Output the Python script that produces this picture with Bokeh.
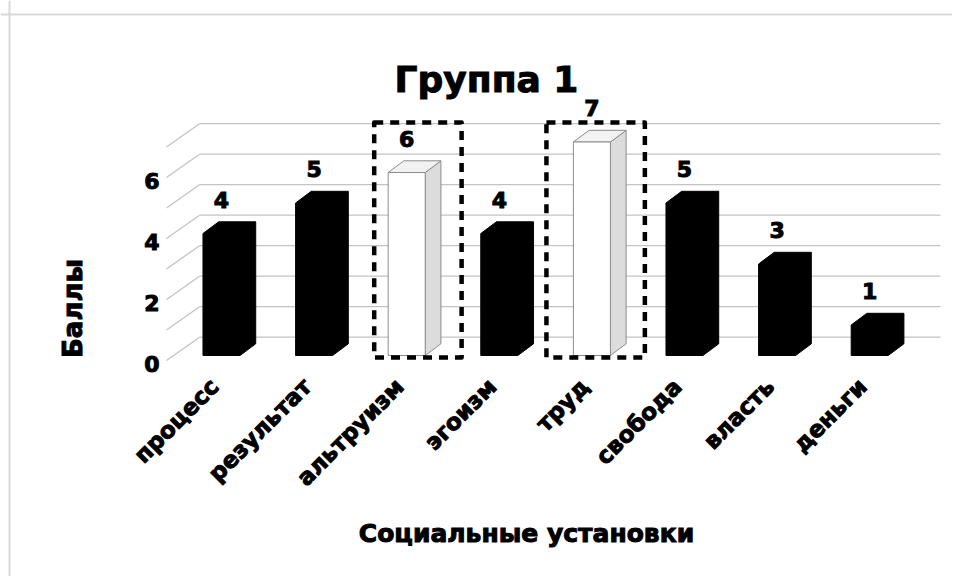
import math
from bokeh.plotting import figure
from bokeh.models import Range1d, Span
from bokeh.core.properties import value
from bokeh.embed import file_html
from bokeh.resources import INLINE

# ---------------- data ----------------
categories = ["процесс", "результат", "альтруизм", "эгоизм", "труд", "свобода", "власть", "деньги"]
scores = [4, 5, 6, 4, 7, 5, 3, 1]
highlighted = ["альтруизм", "труд"]
y_tick_values = [0, 2, 4, 6]
grid_levels = [0, 1, 2, 3, 4, 5, 6, 7]
title_text = "Группа 1"
x_title = "Социальные установки"
y_title = "Баллы"

# ---------------- layout (pixels) ----------------
W, H = 952, 576
PX_CAT = 92.6      # pixels per category step
PX_VAL = 30.5      # pixels per score unit
ORIGIN_X = 221     # canvas x of first category (front face centre)
ORIGIN_Y = 355     # canvas y of score 0 (front face bottom)

def px_to_x(px):
    return (px - ORIGIN_X) / PX_CAT

def py_to_y(py):
    return (ORIGIN_Y - py) / PX_VAL

# pseudo-3D projection constants (data units)
HALF_W = 0.2
DX = 15.7 / PX_CAT
DY = 11.7 / PX_VAL
WALL_LEFT = px_to_x(199)
WALL_RIGHT = px_to_x(940)
WALL_DY = 18.3 / PX_VAL
SIDE_FRONT_X = px_to_x(166)
SIDE_FRONT_DY = -5.0 / PX_VAL

FONT = value("DejaVu Sans")
GRID_COLOR = "#c3c3c3"
TEXT_STYLE = dict(text_font=FONT, text_font_style="bold", text_color="black",
                  text_outline_color="black")

p = figure(width=W, height=H,
           x_range=Range1d(px_to_x(0), px_to_x(W)),
           y_range=Range1d(py_to_y(H), py_to_y(0)),
           x_axis_type=None, y_axis_type=None,
           output_backend="svg", toolbar_location=None,
           min_border=0)
p.grid.visible = False
p.outline_line_color = None
p.background_fill_color = "white"
p.border_fill_color = "white"

# chart border (top + left visible)
p.add_layout(Span(location=py_to_y(14), dimension="width", line_color="#d9d9d9", line_width=2))
p.add_layout(Span(location=px_to_x(9), dimension="height", line_color="#d9d9d9", line_width=2))

# back wall gridlines and side wall diagonals
n = len(grid_levels)
p.segment(x0=[WALL_LEFT] * n, y0=[g + WALL_DY for g in grid_levels],
          x1=[WALL_RIGHT] * n, y1=[g + WALL_DY for g in grid_levels],
          line_color=GRID_COLOR, line_width=1.3)
p.segment(x0=[SIDE_FRONT_X] * n, y0=[g + SIDE_FRONT_DY for g in grid_levels],
          x1=[WALL_LEFT] * n, y1=[g + WALL_DY for g in grid_levels],
          line_color=GRID_COLOR, line_width=1.3)

# bars
dark_xs, dark_ys = [], []
front_l, front_r, front_t = [], [], []
top_xs, top_ys, side_xs, side_ys = [], [], [], []
for i, (c, v) in enumerate(zip(categories, scores)):
    xl, xr = i - HALF_W, i + HALF_W
    if c in highlighted:
        front_l.append(xl); front_r.append(xr); front_t.append(v)
        top_xs.append([xl, xr, xr + DX, xl + DX])
        top_ys.append([v, v, v + DY, v + DY])
        side_xs.append([xr, xr + DX, xr + DX, xr])
        side_ys.append([0, DY, v + DY, v])
    else:
        dark_xs.append([xl, xr, xr + DX, xr + DX, xl + DX, xl])
        dark_ys.append([0, 0, DY, v + DY, v + DY, v])

p.patches(dark_xs, dark_ys, fill_color="black", line_color="black", line_width=1)
p.patches(side_xs, side_ys, fill_color="#dcdcdc", line_color="#8c8c8c", line_width=1)
p.patches(top_xs, top_ys, fill_color="#f2f2f2", line_color="#8c8c8c", line_width=1)
p.quad(left=front_l, right=front_r, bottom=[0] * len(front_l), top=front_t,
       fill_color="white", line_color="#8c8c8c", line_width=1)

# dashed highlight frames
BOX_PAD = {"альтруизм": (-0.351, 0.593), "труд": (-0.491, 0.572)}
BOX_TOP = py_to_y(122)
BOX_BOTTOM = py_to_y(357)
hl, hr = [], []
for i, c in enumerate(categories):
    if c in highlighted:
        hl.append(i + BOX_PAD[c][0])
        hr.append(i + BOX_PAD[c][1])
p.quad(left=hl, right=hr, bottom=[BOX_BOTTOM] * len(hl), top=[BOX_TOP] * len(hl),
       fill_color=None, line_color="black", line_width=4.5, line_dash="9 7", line_join="round")

# value labels
p.text(x=list(range(len(categories))), y=[v + 1.1 for v in scores], text=[str(v) for v in scores],
       text_font_size="22px", text_align="center", text_baseline="alphabetic", **TEXT_STYLE)

# y tick labels
p.text(x=[px_to_x(159)] * len(y_tick_values), y=[t - 0.29 for t in y_tick_values],
       text=[str(t) for t in y_tick_values],
       text_font_size="22px", text_align="right", text_baseline="alphabetic", **TEXT_STYLE)

# category labels (rotated 45 degrees)
p.text(x=[i - 0.075 for i in range(len(categories))], y=[py_to_y(382)] * len(categories), text=categories,
       angle=math.pi / 4, text_font_size="23px",
       text_align="right", text_baseline="middle", **TEXT_STYLE)

# titles
p.text(x=[px_to_x(486)], y=[py_to_y(79)], text=[title_text],
       text_font_size="36px", text_align="center", text_baseline="alphabetic", **TEXT_STYLE)
p.text(x=[px_to_x(526)], y=[py_to_y(533)], text=[x_title],
       text_font_size="25px", text_align="center", text_baseline="alphabetic", **TEXT_STYLE)
p.text(x=[px_to_x(72)], y=[py_to_y(308)], text=[y_title], angle=math.pi / 2,
       text_font_size="26px", text_align="center", text_baseline="alphabetic", **TEXT_STYLE)

open("out.html", "w").write(file_html(p, INLINE))
